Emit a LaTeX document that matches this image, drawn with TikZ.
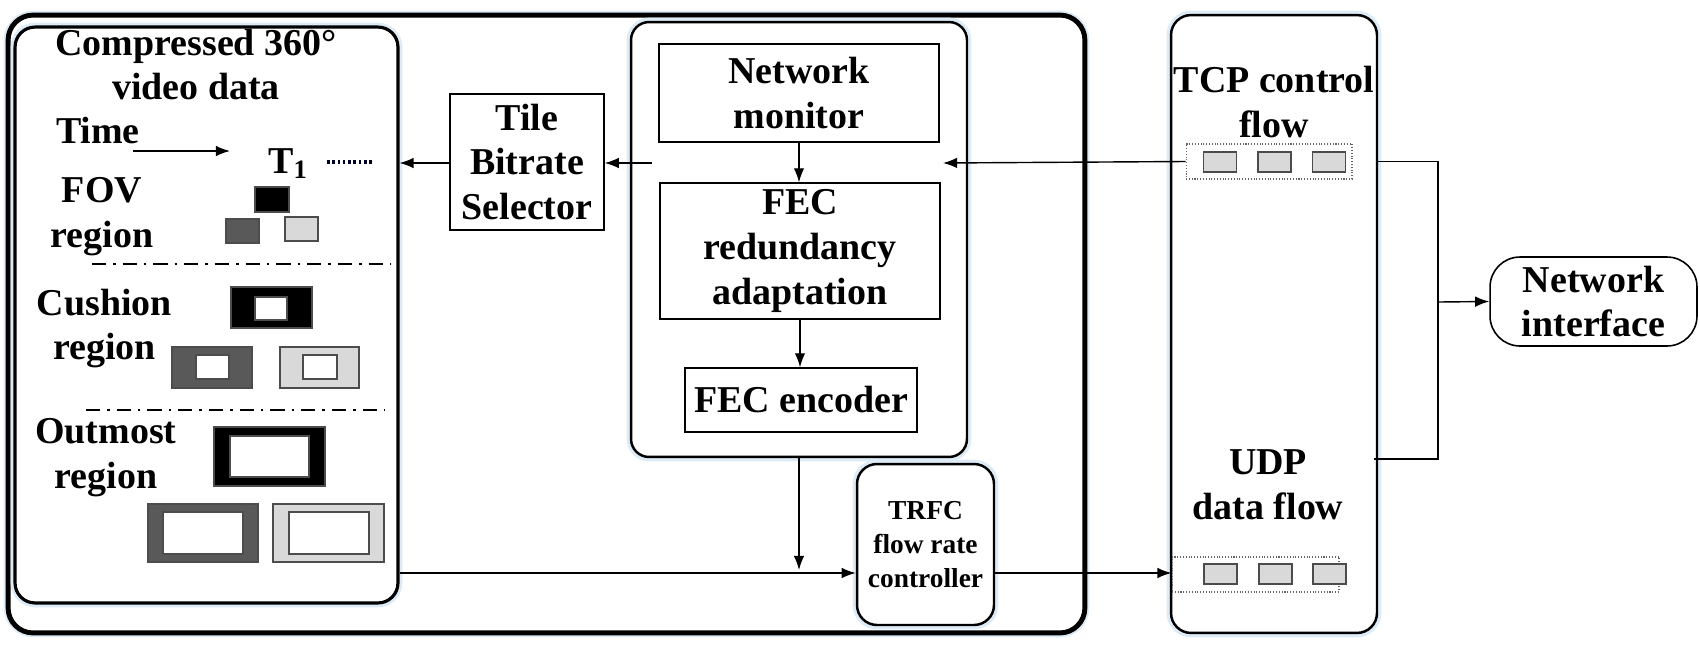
\documentclass[tikz,border=0pt]{standalone}
\usepackage{fontspec}
\setmainfont{Liberation Serif}
\usetikzlibrary{arrows.meta}
\definecolor{tiledark}{HTML}{595959}
\definecolor{tilelight}{HTML}{D9D9D9}
\definecolor{glow}{HTML}{DDEBF7}

\begin{document}
\begin{tikzpicture}[x=0.02cm,y=-0.02cm,
  font=\fontsize{21.6}{25.5}\selectfont\bfseries,
  roundbox/.style={draw,rounded corners=0.4cm,fill=white,line width=1.4pt,preaction={draw=glow,line width=5pt}},
  plainbox/.style={draw,line width=0.8pt,fill=white,align=center,inner sep=0pt},
  packet/.style={draw=black!70,fill=tilelight,line width=0.6pt,minimum width=0.66cm,minimum height=0.4cm,inner sep=0pt},
  queue/.style={draw=black!60,densely dotted,line width=0.6pt,minimum width=3.32cm,minimum height=0.7cm,inner sep=0pt},
  tilebox/.style={draw=black!70,line width=0.6pt},
  dashdot/.style={line width=0.9pt,dash pattern=on 8pt off 4pt on 1.5pt off 4pt},
  arr/.style={-{Latex[length=8pt,width=6pt]},line width=0.8pt},
  txt/.style={align=center}]
 \useasboundingbox (0,0) rectangle (1700,650);

 % containers
 \node[roundbox,line width=2.8pt,rounded corners=0.5cm,minimum width=21.54cm,minimum height=12.36cm] (sender) at (546.5,324) {};
 \node[roundbox,line width=1.8pt,minimum width=7.66cm,minimum height=11.52cm] (video) at (206.5,315) {};
 \node[roundbox,rounded corners=0.36cm,minimum width=6.72cm,minimum height=8.7cm] (fecbox) at (799,239.5) {};
 \node[roundbox,minimum width=4.12cm,minimum height=12.36cm] (flows) at (1274,324) {};

 % blocks
 \node[plainbox,minimum width=3.08cm,minimum height=2.72cm] (tile) at (527,162) {Tile\\Bitrate\\Selector};
 \node[plainbox,minimum width=5.6cm,minimum height=1.96cm] (nm) at (799,93) {Network\\monitor};
 \node[plainbox,minimum width=5.6cm,minimum height=2.72cm] (fec) at (800,251) {FEC\\redundancy\\adaptation};
 \node[plainbox,minimum width=4.64cm,minimum height=1.28cm] (enc) at (801,400) {FEC encoder};
 \node[roundbox,minimum width=2.74cm,minimum height=3.22cm,align=center,inner sep=0pt,
       font=\fontsize{15.6}{19.3}\selectfont\bfseries] (trfc) at (925.5,544.5) {TRFC\\flow rate\\controller};
 \node[draw,rounded corners=0.6cm,line width=0.9pt,minimum width=4.14cm,minimum height=1.78cm,
       align=center,inner sep=0pt] (ni) at (1593.5,301.5) {Network\\interface};

 % video data
 \node[txt] (vtitle) at (196,64.5) {Compressed 360°\\video data};
 \node[anchor=base west] (time) at (50,143) {Time};
 \node[anchor=base west] (tone) at (262,173) {T\textsubscript{1}};
 \node[txt] (fovtxt) at (102,216.5) {FOV\\region};
 \node[txt] (cushtxt) at (104.5,328.5) {Cushion\\region};
 \node[txt] (outtxt) at (106,458) {Outmost\\region};
 \coordinate (tstart) at (133,151);
 \coordinate (tend) at (230,151);
 \draw[arr] (tstart) -- (tend);
 \draw[line width=2pt,dash pattern=on 1.5pt off 1.5pt,draw=black!85!blue] (327,162) -- (373,162);
 \draw[dashdot] (92,264) -- (390,264);
 \draw[dashdot] (86,410) -- (384,410);
 \foreach \xa/\ya/\xb/\yb/\col in {255/187/289/212/black,226/219/259/243/tiledark,285/217/318/241/tilelight,
     231/287/312/328/black,172/347/252/388/tiledark,280/347/359/388/tilelight,
     214/427/325/486/black,148/504/258/562/tiledark,273/504/384/562/tilelight}
   \draw[tilebox,fill=\col] (\xa,\ya) rectangle (\xb,\yb);
 \foreach \xa/\ya/\xb/\yb in {255/297/287/320,196/355/229/379,303/355/337/379,
     230/436/309/477,163/512/243/554,289/512/369/554}
   \draw[tilebox,fill=white] (\xa,\ya) rectangle (\xb,\yb);

 % flows
 \node[txt] (tcptxt) at (1274,102) {TCP control\\flow};
 \node[txt] (udptxt) at (1268,485) {UDP\\data flow};
 \node[queue] (tcpq) at (1269,161.5) {};
 \node[queue,minimum width=3.34cm] (udpq) at (1255.5,574.5) {};
 \foreach \x/\n in {1220/1,1274.5/2,1329/3}
   \node[packet] (tcpp\n) at (\x,162) {};
 \foreach \x/\n in {1220.5/1,1275.5/2,1329.5/3}
   \node[packet] (udpp\n) at (\x,574) {};

 % connectors
 \coordinate (tcpin) at (943,163);
 \coordinate (selout) at (652,163);
 \coordinate (join) at (799,570);
 \coordinate (dataline) at (0,573);
 \coordinate (bus) at (1438,302);
 \coordinate (udpout) at (1374,459);
 \draw[arr] (tcpq.west) -- (tcpin);
 \draw[arr] (selout) -- (tile.east |- selout);
 \draw[arr] (tile.west |- selout) -- (video.east |- selout);
 \draw[arr] (nm.south) -- (nm.south |- fec.north);
 \draw[arr] (fec.south) -- (fec.south |- enc.north);
 \draw[arr] (fecbox.south) -- (join);
 \draw[arr] (video.east |- dataline) -- (trfc.west |- dataline);
 \draw[arr] (trfc.east |- dataline) -- (udpq.west |- dataline);
 \draw[line width=0.8pt] (flows.east |- tcpq.east) -| (bus) |- (udpout);
 \draw[arr] (bus) -- (ni.west);
\end{tikzpicture}
\end{document}
